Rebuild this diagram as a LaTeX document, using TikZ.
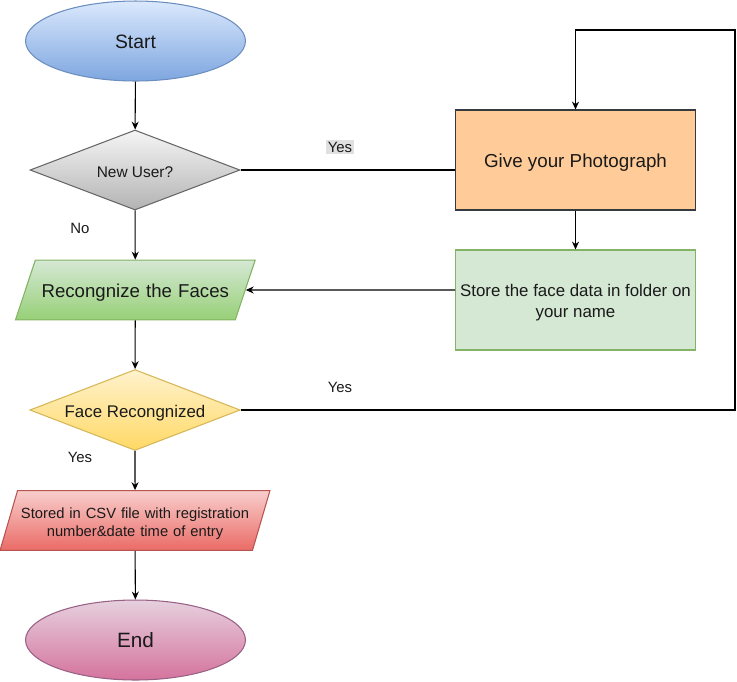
\documentclass[tikz,border=0pt]{standalone}
\usepackage{fontspec}
\setmainfont{Liberation Sans}
\usetikzlibrary{shapes.geometric,arrows.meta}

\definecolor{startTop}{HTML}{DAE8FC}
\definecolor{startBot}{HTML}{7EA6E0}
\definecolor{startLine}{HTML}{6C8EBF}
\definecolor{userTop}{HTML}{F5F5F5}
\definecolor{userBot}{HTML}{B3B3B3}
\definecolor{userLine}{HTML}{666666}
\definecolor{recTop}{HTML}{D5E8D4}
\definecolor{recBot}{HTML}{97D077}
\definecolor{recLine}{HTML}{82B366}
\definecolor{faceTop}{HTML}{FFF2CC}
\definecolor{faceBot}{HTML}{FFD966}
\definecolor{faceLine}{HTML}{D6B656}
\definecolor{csvTop}{HTML}{F8CECC}
\definecolor{csvBot}{HTML}{EA6B66}
\definecolor{csvLine}{HTML}{B85450}
\definecolor{stopTop}{HTML}{E6D0DE}
\definecolor{stopBot}{HTML}{D5739D}
\definecolor{stopLine}{HTML}{996185}
\definecolor{photoFill}{HTML}{FFCC99}
\definecolor{photoLine}{HTML}{36393D}
\definecolor{yesBg}{HTML}{E0E0E0}
\definecolor{txt}{HTML}{1A1A1A}

\begin{document}
\begin{tikzpicture}[
		x=0.02cm, y=-0.02cm,
		line width=0.6pt,
		arr/.style = {-{Stealth[length=4.5pt,width=4pt]}},
		oneline/.style = {text height=1.05em, text depth=0.2em},
		term/.style = {draw, ellipse, minimum width=4.4cm, minimum height=1.6cm, inner sep=0pt, text=txt, oneline},
		decide/.style = {draw, diamond, shape aspect=2.6, minimum width=4.2cm, minimum height=1.6cm, inner sep=1pt, text=txt, oneline},
		io/.style = {draw, trapezium, inner sep=0pt, align=center, text=txt},
		proc/.style = {draw, rectangle, minimum width=4.8cm, minimum height=2cm, inner sep=1pt, align=center, text=txt},
		lbl/.style = {inner sep=1.2pt, text=txt, font=\fontsize{8.5}{10}\selectfont}
	]
	\useasboundingbox (0,0) rectangle (737,681);

	% left column
	\node[term, top color=startTop, bottom color=startBot, draw=startLine, font=\fontsize{11}{13}\selectfont] (start) at (135.5,41) {Start};
	\node[decide, top color=userTop, bottom color=userBot, draw=userLine, font=\fontsize{8.8}{10}\selectfont] (newuser) at (135,170) {New User?};
	\node[io, text width=4cm, text height=21.5pt, text depth=12.5pt, trapezium left angle=71.6, trapezium right angle=108.4, top color=recTop, bottom color=recBot, draw=recLine, font=\fontsize{10.6}{12}\selectfont] (recog) at (135.3,290) {Recongnize the Faces};
	\node[decide, top color=faceTop, bottom color=faceBot, draw=faceLine, font=\fontsize{9.6}{11}\selectfont] (facerec) at (135,410) {Face Recongnized};
	\node[io, text width=4.7cm, text height=16pt, text depth=18pt, trapezium left angle=73.7, trapezium right angle=106.3, top color=csvTop, bottom color=csvBot, draw=csvLine, font=\fontsize{8.4}{10.2}\selectfont] (csv) at (135,520.5) {Stored in CSV file with registration\\number\&date time of entry};
	\node[term, top color=stopTop, bottom color=stopBot, draw=stopLine, font=\fontsize{11.8}{14}\selectfont] (stop) at (135.5,640) {End};

	% right column
	\node[proc, oneline, fill=photoFill, draw=photoLine, font=\fontsize{10.7}{12}\selectfont] (photo) at (575.5,160) {Give your Photograph};
	\node[proc, text height=22.4pt, fill=recTop, draw=recLine, font=\fontsize{9.6}{12}\selectfont] (store) at (575.5,300) {Store the face data in folder on\\your name};
	\coordinate (loop) at (735,30);

	% labels
	\node[lbl, fill=yesBg] (yes1) at (340,147) {Yes};
	\node[lbl] (no1) at (80,228) {No};
	\node[lbl] (yes2) at (340,387) {Yes};
	\node[lbl] (yes3) at (80,457) {Yes};

	\draw[arr] (start) -- (newuser);
	\draw[arr] (newuser) -- (recog);
	\draw (newuser.east) -- (newuser.east -| photo.west);
	\draw[arr] (photo) -- (store);
	\draw[arr] (store.west |- recog.center) -- (recog);
	\draw[arr] (recog) -- (facerec);
	\draw[arr] (facerec.east) -| (loop) -| (photo.north);
	\draw[arr] (facerec) -- (csv);
	\draw[arr] (csv) -- (stop);
\end{tikzpicture}
\end{document}
